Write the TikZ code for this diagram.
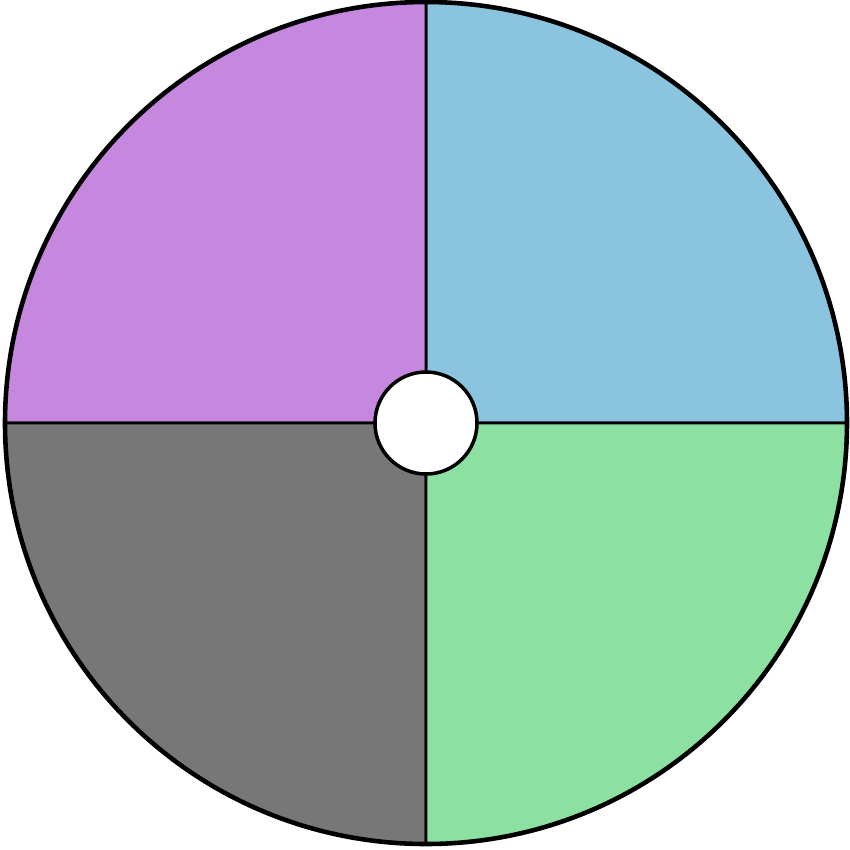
\documentclass[tikz,border=0pt]{standalone}
\definecolor{qpurple}{HTML}{C688DF}
\definecolor{qblue}{HTML}{8AC4DF}
\definecolor{qgreen}{HTML}{8CE0A2}
\definecolor{qgray}{HTML}{777777}
\begin{document}
\begin{tikzpicture}[x=0.02cm,y=-0.02cm,
  sector/.style={draw=black,line width=1.6pt,line join=round},
  rim/.style={draw=black,line width=2.6pt},
  hub/.style={draw=black,line width=2pt,fill=white}]
\useasboundingbox (0,0) rectangle (850,850);
\coordinate (c) at (426,423);
\def\R{421}
% quadrants
\path[sector,fill=qblue] (c) -- ++(\R,0) arc[start angle=0,end angle=-90,radius=\R] -- cycle;
\path[sector,fill=qpurple] (c) -- ++(0,-\R) arc[start angle=-90,end angle=-180,radius=\R] -- cycle;
\path[sector,fill=qgray] (c) -- ++(-\R,0) arc[start angle=180,end angle=90,radius=\R] -- cycle;
\path[sector,fill=qgreen] (c) -- ++(0,\R) arc[start angle=90,end angle=0,radius=\R] -- cycle;
% outer rim
\draw[rim] (c) circle[radius=\R];
% hub
\draw[hub] (c) circle[radius=51];
\end{tikzpicture}
\end{document}
